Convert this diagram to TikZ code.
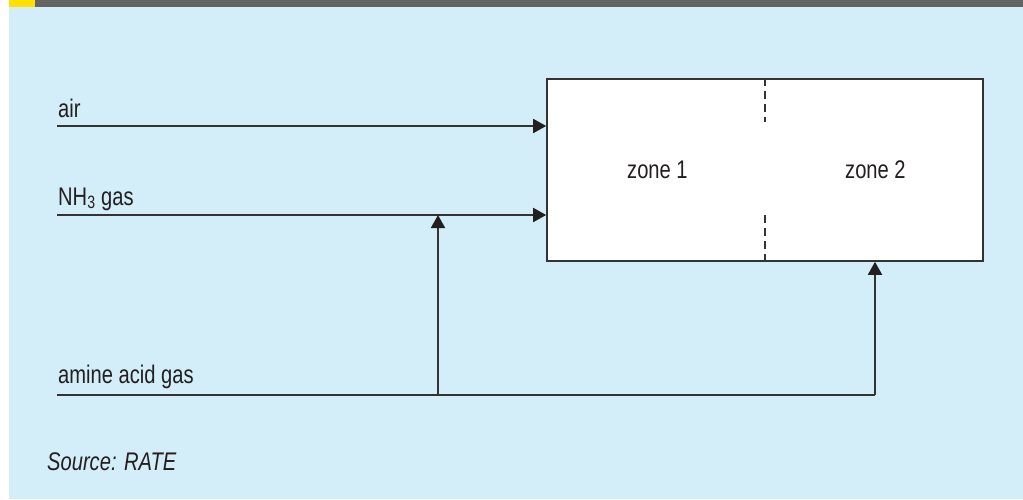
\documentclass[tikz,border=0pt]{standalone}
\usepackage{fontspec}
\setmainfont[FakeStretch=0.79]{Liberation Sans}
\usepackage{tikz}
\usetikzlibrary{arrows.meta}

\definecolor{panelblue}{HTML}{D3EEF9}
\definecolor{bargrey}{HTML}{646464}
\definecolor{baryellow}{HTML}{FFE000}
\definecolor{inkgrey}{HTML}{333333}
\definecolor{inkdark}{HTML}{231F20}

\begin{document}
\begin{tikzpicture}[x=1pt, y=-1pt,
    font=\fontsize{25.5}{28}\selectfont,
    flow/.style={draw=inkgrey, line width=1.8pt},
    feed/.style={flow, -{Triangle[length=13pt,width=14pt,color=inkdark]}},
    label/.style={anchor=base west, inner sep=0pt, text=inkdark}]
    \useasboundingbox (0,0) rectangle (1023,499);
    \fill[white] (0,0) rectangle (1023,499);
    \fill[panelblue] (9,7) rectangle (1023,499);
    \fill[bargrey] (9,0) rectangle (1023,7);
    \fill[baryellow] (9,0) rectangle (35,7);

    % furnace with its two zones
    \node[draw=inkgrey, line width=1.6pt, fill=white, minimum width=436pt, minimum height=182pt, inner sep=0pt] (reactor) at (765,170) {};
    \node[label] (zone1) at (627,178) {zone 1};
    \node[label] (zone2) at (845,178) {zone 2};
    \draw[inkgrey, line width=1.4pt, dash pattern=on 8pt off 5pt] (reactor.north) -- ++(0,44);
    \draw[inkgrey, line width=1.4pt, dash pattern=on 8pt off 5pt] (reactor.south) -- ++(0,-48);

    % feed lines
    \coordinate (air) at (57,126);
    \coordinate (nh3) at (57,215);
    \coordinate (amine) at (57,395);
    \coordinate (split) at (438,395);
    \coordinate (corner) at (875,395);
    \node[label] (airtext) at (58,117) {air};
    \node[label] (nh3text) at (58,205) {NH\textsubscript{3} gas};
    \node[label] (aminetext) at (58,383) {amine acid gas};
    \draw[feed] (air) -- (air -| reactor.west);
    \draw[feed] (nh3) -- (nh3 -| reactor.west);
    \draw[flow] (amine) -- (corner);
    \draw[feed] (split) -- (split |- nh3);
    \draw[feed] (corner) -- (corner |- reactor.south);

    \node[label, font=\fontsize{25.5}{28}\selectfont\itshape] (source) at (47,470) {Source: RATE};
\end{tikzpicture}
\end{document}
